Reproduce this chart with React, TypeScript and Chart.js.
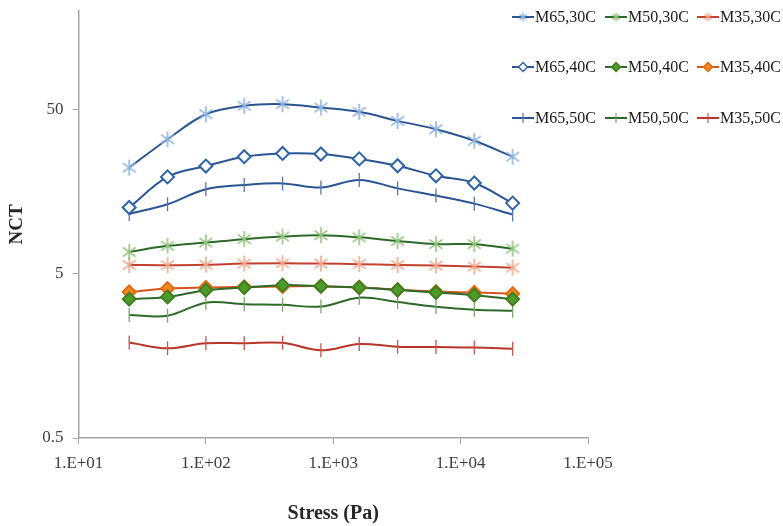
import React, { useEffect, useRef } from 'react';
import { Chart, registerables } from 'chart.js';
Chart.register(...registerables);

// ---- data ----
const stress = [25, 50, 100, 200, 400, 800, 1600, 3200, 6400, 12800, 25600];
const m65_30 = [22.2, 33.1, 47.0, 52.9, 54.1, 51.6, 48.6, 42.8, 38.1, 32.4, 25.9];
const m50_30 = [6.81, 7.41, 7.76, 8.14, 8.44, 8.61, 8.35, 7.94, 7.59, 7.59, 7.13];
const m35_30 = [5.67, 5.65, 5.69, 5.78, 5.81, 5.78, 5.73, 5.67, 5.62, 5.54, 5.46];
const m65_40 = [12.7, 19.5, 22.7, 25.9, 27.1, 26.9, 25.1, 22.8, 19.8, 17.9, 13.5];
const m50_40 = [3.51, 3.62, 3.98, 4.13, 4.27, 4.21, 4.13, 3.99, 3.85, 3.71, 3.51];
const m35_40 = [3.88, 4.07, 4.13, 4.17, 4.19, 4.21, 4.13, 4.01, 3.9, 3.85, 3.79];
const m65_50 = [11.6, 13.3, 16.4, 17.4, 17.8, 16.8, 18.7, 16.6, 15.0, 13.4, 11.5];
const m50_50 = [2.81, 2.78, 3.34, 3.27, 3.24, 3.16, 3.58, 3.37, 3.15, 3.02, 2.98];
const m35_50 = [1.91, 1.76, 1.89, 1.89, 1.9, 1.71, 1.87, 1.8, 1.79, 1.78, 1.75];

const seriesLabels = [
  'M65,30C', 'M50,30C', 'M35,30C',
  'M65,40C', 'M50,40C', 'M35,40C',
  'M65,50C', 'M50,50C', 'M35,50C',
];
const seriesValues = [m65_30, m50_30, m35_30, m65_40, m50_40, m35_40, m65_50, m50_50, m35_50];
const xTickValues = [10, 100, 1000, 10000, 100000];
const yTickValues = [0.5, 5, 50];

// ---- styles ----
const FONT = '"Liberation Serif", "Times New Roman", serif';
const styles = [
  { line: '#2b5592', marker: 'asterisk', color: '#8fb3e0', fill: '#8fb3e0' },
  { line: '#2d6a2a', marker: 'asterisk', color: '#92c47c', fill: '#92c47c' },
  { line: '#c4402e', marker: 'asterisk', color: '#f1a88a', fill: '#f1a88a' },
  { line: '#2b5592', marker: 'diamond', color: '#2f63a8', fill: '#ffffff' },
  { line: '#2d6a2a', marker: 'diamond', color: '#3f7f20', fill: '#4e9a2a' },
  { line: '#d9531e', marker: 'diamond', color: '#e06a10', fill: '#f3861f' },
  { line: '#2b5592', marker: 'cross', color: '#5577aa', fill: '#5577aa' },
  { line: '#2d6a2a', marker: 'cross', color: '#7aa56a', fill: '#7aa56a' },
  { line: '#b8352a', marker: 'cross', color: '#c8564a', fill: '#c8564a' },
];

function makeAsterisk(color: string, size: number, lw: number) {
  const c = document.createElement('canvas');
  c.width = size;
  c.height = size;
  const g = c.getContext('2d')!;
  g.strokeStyle = color;
  g.lineWidth = lw;
  const cx = size / 2;
  const r = size / 2 - 1;
  g.beginPath();
  g.moveTo(cx, cx - r);
  g.lineTo(cx, cx + r);
  const a = Math.PI / 5;
  const dx = r * Math.cos(a);
  const dy = r * Math.sin(a);
  g.moveTo(cx - dx, cx - dy);
  g.lineTo(cx + dx, cx + dy);
  g.moveTo(cx - dx, cx + dy);
  g.lineTo(cx + dx, cx - dy);
  g.stroke();
  return c;
}

const legendPlugin = {
  id: 'gridLegend',
  afterDraw(chart: any) {
    const ctx = chart.ctx as CanvasRenderingContext2D;
    const colX = [512, 605, 697];
    const rowY = [17, 67, 118];
    ctx.save();
    chart.data.datasets.forEach((ds: any, i: number) => {
      const st = styles[i];
      const x0 = colX[i % 3];
      const y = rowY[Math.floor(i / 3)];
      ctx.strokeStyle = ds.borderColor;
      ctx.lineWidth = 2;
      ctx.beginPath();
      ctx.moveTo(x0, y);
      ctx.lineTo(x0 + 22, y);
      ctx.stroke();
      const mx = x0 + 11;
      if (st.marker === 'asterisk') {
        const img = ds._legendImg as HTMLCanvasElement;
        ctx.drawImage(img, mx - img.width / 2, y - img.height / 2);
      } else if (st.marker === 'diamond') {
        const r = 4.5;
        ctx.beginPath();
        ctx.moveTo(mx, y - r);
        ctx.lineTo(mx + r, y);
        ctx.lineTo(mx, y + r);
        ctx.lineTo(mx - r, y);
        ctx.closePath();
        ctx.fillStyle = st.fill;
        ctx.fill();
        ctx.strokeStyle = st.color;
        ctx.lineWidth = 1.5;
        ctx.stroke();
      } else {
        ctx.strokeStyle = st.color;
        ctx.lineWidth = 1.2;
        ctx.beginPath();
        ctx.moveTo(mx, y - 5);
        ctx.lineTo(mx, y + 5);
        ctx.stroke();
      }
      ctx.fillStyle = '#1a1a1a';
      ctx.font = `16px ${FONT}`;
      ctx.textBaseline = 'middle';
      ctx.textAlign = 'left';
      ctx.fillText(ds.label, x0 + 23, y + 1);
    });
    ctx.restore();
  },
};

export default function App() {
  const ref = useRef<HTMLCanvasElement | null>(null);
  useEffect(() => {
    if (!ref.current) return;
    const datasets = seriesLabels.map((label, i) => {
      const st = styles[i];
      const base: any = {
        label,
        data: stress.map((x, j) => ({ x, y: seriesValues[i][j] })),
        borderColor: st.line,
        borderWidth: 2,
        tension: 0.35,
        fill: false,
      };
      if (st.marker === 'asterisk') {
        base.pointStyle = makeAsterisk(st.color, 18, 1.6);
        base._legendImg = makeAsterisk(st.color, 11, 1.3);
        base.pointRadius = 9;
      } else if (st.marker === 'diamond') {
        base.pointStyle = 'rectRot';
        base.pointRadius = 6.5;
        base.pointBackgroundColor = st.fill;
        base.pointBorderColor = st.color;
        base.pointBorderWidth = 2;
      } else {
        base.pointStyle = 'line';
        base.pointRotation = 90;
        base.pointRadius = 7;
        base.pointBorderColor = st.color;
        base.pointBorderWidth = 1.3;
      }
      return base;
    });
    const chart = new Chart(ref.current, {
      type: 'line',
      data: { datasets },
      plugins: [legendPlugin],
      options: {
        animation: false,
        responsive: true,
        maintainAspectRatio: false,
        layout: { padding: { top: 10, right: 195, left: 0, bottom: 0 } },
        plugins: { legend: { display: false }, tooltip: { enabled: false } },
        scales: {
          x: {
            type: 'logarithmic',
            min: 10,
            max: 100000,
            bounds: 'data',
            afterFit: (s: any) => { s.height = 88; s.paddingLeft = 0; s.paddingRight = 0; },
            afterBuildTicks: (s: any) => { s.ticks = xTickValues.map((v) => ({ value: v })); },
            ticks: {
              color: '#404040',
              font: { family: FONT, size: 17 },
              padding: 9,
              maxRotation: 0,
              autoSkip: false,
              callback: (v: any) => `1.E+${String(Math.round(Math.log10(Number(v)))).padStart(2, '0')}`,
            },
            grid: { drawOnChartArea: false, drawTicks: true, tickLength: 6, color: '#a6a6a6' },
            border: { color: '#a6a6a6', width: 1.5 },
            title: {
              display: true,
              text: 'Stress (Pa)',
              color: '#262626',
              font: { family: FONT, size: 20, weight: 'bold' },
              padding: { top: 0, bottom: 0 },
            },
          },
          y: {
            type: 'logarithmic',
            min: 0.5,
            max: 200,
            bounds: 'data',
            afterFit: (s: any) => { s.width = 78.5; s.paddingTop = 0; s.paddingBottom = 0; },
            afterBuildTicks: (s: any) => { s.ticks = yTickValues.map((v) => ({ value: v })); },
            ticks: {
              color: '#404040',
              font: { family: FONT, size: 17, lineHeight: 1 },
              padding: 9,
              autoSkip: false,
              callback: (v: any) => String(v),
            },
            grid: { drawOnChartArea: false, drawTicks: true, tickLength: 6, color: '#a6a6a6' },
            border: { color: '#a6a6a6', width: 1.5 },
            title: {
              display: true,
              text: 'NCT',
              color: '#262626',
              font: { family: FONT, size: 19, weight: 'bold' },
              padding: { top: 6, bottom: 0 },
            },
          },
        },
      } as any,
    });
    return () => chart.destroy();
  }, []);
  return (
    <div style={{ position: 'absolute', left: 0, top: 0, width: 783, height: 526, background: '#fff' }}>
      <canvas ref={ref} />
    </div>
  );
}
